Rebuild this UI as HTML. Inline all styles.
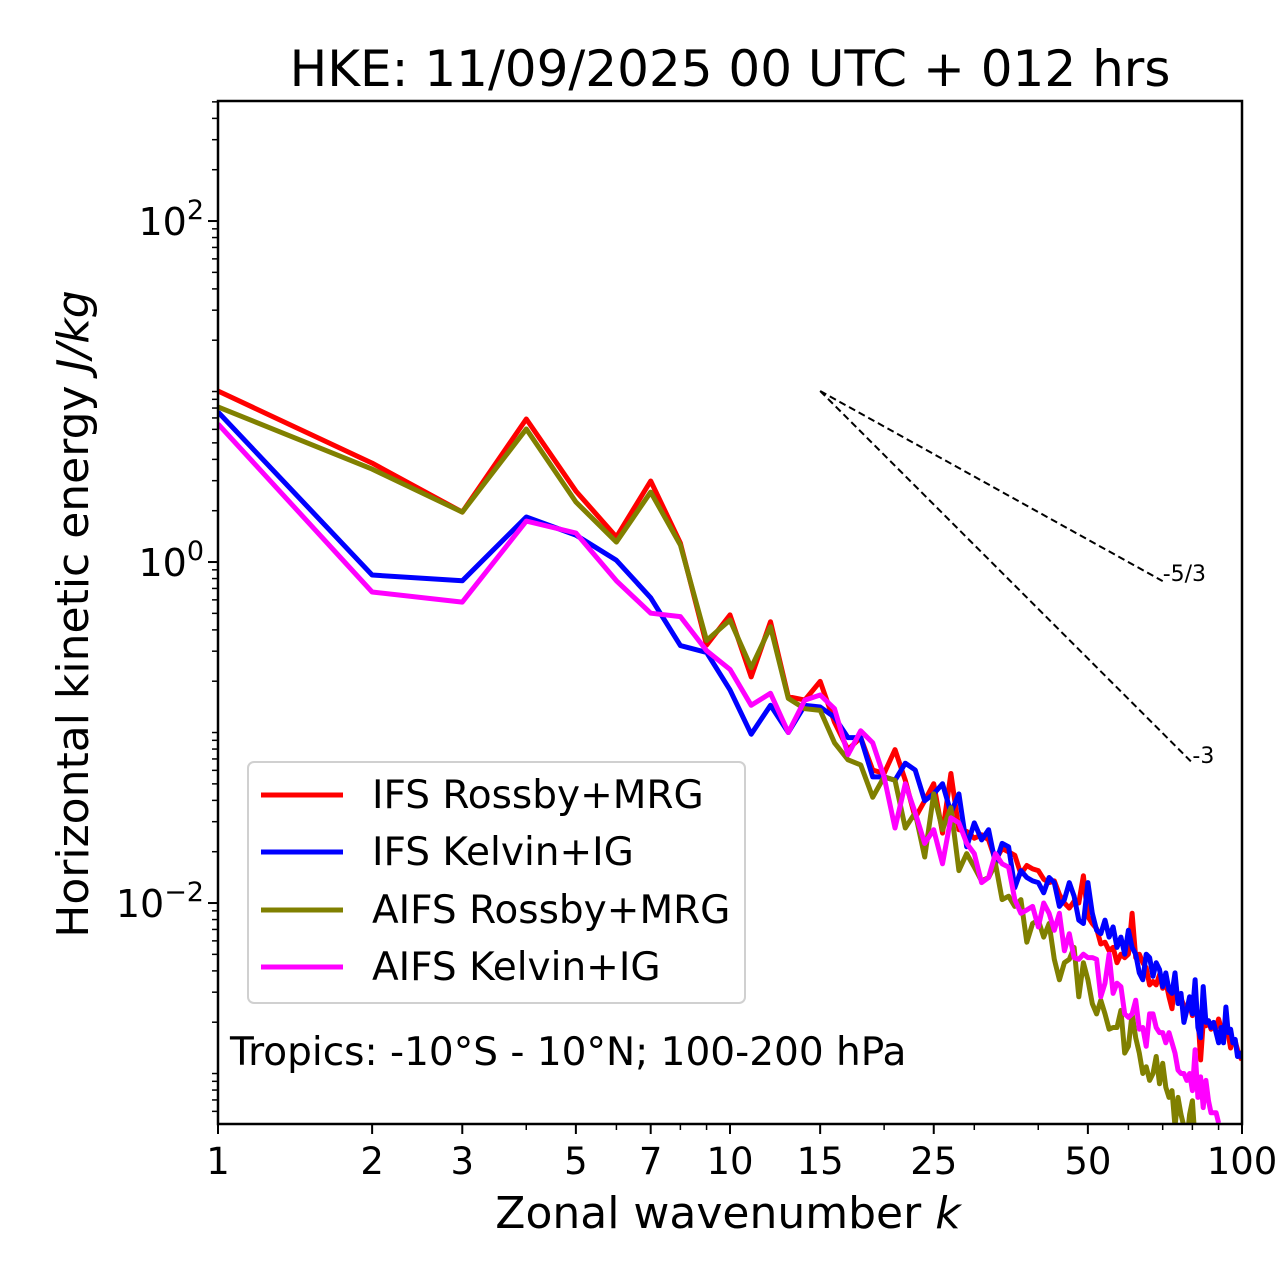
<!DOCTYPE html>
<html><head><meta charset="utf-8"><style>
body{margin:0;background:#fff}
svg{display:block;font-family:"DejaVu Sans","Liberation Sans",sans-serif}
</style></head><body>
<svg id="chart" width="1280" height="1288" viewBox="0 0 1280 1288">
<rect width="1280" height="1288" fill="#fff"/>
<text x="730" y="86" font-size="50" text-anchor="middle">HKE: 11/09/2025 00 UTC + 012 hrs</text>
<g id="grid"></g>
<g id="series" clip-path="url(#clip)"></g>
<defs><clipPath id="clip"><rect x="218" y="101" width="1024" height="1023"/></clipPath></defs>
<rect x="218" y="101" width="1024" height="1023" fill="none" stroke="#000" stroke-width="2.5"/>
<text x="728" y="1228" font-size="44" text-anchor="middle">Zonal wavenumber <tspan font-style="italic">k</tspan></text>
<text transform="translate(88,614) rotate(-90)" font-size="44" text-anchor="middle">Horizontal kinetic energy <tspan font-style="italic">J/kg</tspan></text>
<g>
<rect x="248" y="762" width="497" height="241" rx="6" fill="#fff" fill-opacity="0.85" stroke="#d0d0d0" stroke-width="2"/>
<line x1="261" y1="795" x2="343" y2="795" stroke="#ff0000" stroke-width="5"/>
<text x="372" y="808" font-size="39">IFS Rossby+MRG</text>
<line x1="261" y1="852" x2="343" y2="852" stroke="#0000ff" stroke-width="5"/>
<text x="372" y="865" font-size="39">IFS Kelvin+IG</text>
<line x1="261" y1="910" x2="343" y2="910" stroke="#808000" stroke-width="5"/>
<text x="372" y="923" font-size="39">AIFS Rossby+MRG</text>
<line x1="261" y1="967" x2="343" y2="967" stroke="#ff00ff" stroke-width="5"/>
<text x="372" y="980" font-size="39">AIFS Kelvin+IG</text>
</g>
<text x="230" y="1065" font-size="39">Tropics: -10°S - 10°N; 100-200 hPa</text>
<g id="refs"></g>
</svg>
<script>
// log10 of energy per wavenumber k=1..N
const ifsRossby=[1.003,0.58,0.293,0.839,0.416,0.147,0.475,0.111,-0.487,-0.31,-0.674,-0.35,-0.79,-0.81,-0.70,-0.94,-1.10,-1.03,-1.22,-1.24,-1.10,-1.28,-1.50,-1.40,-1.30,-1.59,-1.24,-1.57,-1.58,-1.62,-1.60,-1.63,-1.75,-1.68,-1.70,-1.72,-1.83,-1.78,-1.80,-1.81,-1.86,-1.88,-1.87,-1.95,-2.00,-2.03,-1.99,-2.00,-1.84,-2.08,-2.12,-2.15,-2.24,-2.23,-2.28,-2.26,-2.35,-2.30,-2.32,-2.30,-2.06,-2.32,-2.30,-2.35,-2.38,-2.48,-2.46,-2.48,-2.42,-2.50,-2.46,-2.55,-2.62,-2.45,-2.57,-2.56,-2.60,-2.62,-2.60,-2.66,-2.60,-2.65,-2.92,-2.70,-2.72,-2.69,-2.74,-2.72,-2.73,-2.68,-2.73,-2.74,-2.72,-2.77,-2.85,-2.80,-2.81,-2.86,-2.90,-2.92];
const ifsKelvin=[0.88,-0.076,-0.11,0.264,0.158,0.01,-0.21,-0.49,-0.53,-0.75,-1.01,-0.84,-1.0,-0.84,-0.85,-0.91,-1.03,-1.03,-1.26,-1.26,-1.28,-1.18,-1.22,-1.40,-1.36,-1.30,-1.47,-1.36,-1.67,-1.53,-1.63,-1.57,-1.77,-1.65,-1.67,-1.91,-1.81,-1.85,-1.87,-1.88,-1.94,-1.85,-1.88,-2.02,-1.98,-1.88,-1.96,-2.10,-2.12,-1.88,-2.06,-2.16,-2.18,-2.10,-2.20,-2.14,-2.26,-2.20,-2.30,-2.16,-2.26,-2.30,-2.41,-2.45,-2.30,-2.32,-2.43,-2.35,-2.39,-2.49,-2.41,-2.51,-2.53,-2.41,-2.59,-2.53,-2.70,-2.63,-2.55,-2.65,-2.45,-2.73,-2.79,-2.49,-2.70,-2.69,-2.73,-2.70,-2.76,-2.82,-2.73,-2.82,-2.61,-2.76,-2.74,-2.82,-2.80,-2.90,-2.88,-2.91];
const aifsRossby=[0.91,0.545,0.293,0.78,0.352,0.117,0.41,0.10,-0.46,-0.34,-0.62,-0.38,-0.80,-0.86,-0.87,-1.06,-1.16,-1.19,-1.38,-1.26,-1.28,-1.56,-1.47,-1.73,-1.36,-1.57,-1.44,-1.81,-1.71,-1.79,-1.87,-1.85,-1.77,-1.98,-1.96,-2.02,-1.98,-2.23,-2.12,-2.10,-2.20,-2.12,-2.33,-2.45,-2.35,-2.33,-2.26,-2.55,-2.35,-2.45,-2.59,-2.65,-2.57,-2.65,-2.74,-2.73,-2.73,-2.63,-2.88,-2.84,-2.65,-2.79,-2.88,-3.00,-2.96,-3.04,-3.00,-2.90,-3.06,-2.94,-3.08,-3.14,-3.10,-3.31,-3.14,-3.24,-3.31,-3.40,-3.24,-3.16,-3.40,-3.45,-3.42,-3.50];
const aifsKelvin=[0.81,-0.176,-0.235,0.24,0.17,-0.11,-0.30,-0.32,-0.52,-0.63,-0.84,-0.77,-1.00,-0.81,-0.78,-0.86,-1.13,-0.99,-1.06,-1.26,-1.56,-1.30,-1.47,-1.65,-1.57,-1.77,-1.50,-1.53,-1.65,-1.71,-1.88,-1.85,-1.71,-1.77,-1.79,-1.98,-2.06,-2.04,-2.02,-2.14,-2.00,-2.06,-2.16,-2.06,-2.28,-2.18,-2.32,-2.33,-2.30,-2.32,-2.32,-2.33,-2.55,-2.47,-2.30,-2.53,-2.47,-2.49,-2.65,-2.67,-2.65,-2.57,-2.74,-2.73,-2.84,-2.65,-2.65,-2.73,-2.76,-2.76,-2.82,-2.76,-2.82,-2.88,-2.98,-3.00,-3.00,-3.04,-3.00,-3.10,-2.86,-3.14,-3.02,-3.20,-3.04,-3.16,-3.23,-3.23,-3.23,-3.29];
const xTicks=[1,2,3,5,7,10,15,25,50,100];
const xMinor=[4,6,8,9,20,30,40,60,70,80,90];
const yMajorExp=[2,0,-2];
const refStart=[15,1.003];
const refSlopes=[-5/3,-3];
const refLabels=["-5/3","-3"];
const refEnds=[70,80];

const X0=218,X1=1242,Y0=1124,Y1=101,LMIN=-3.296,LMAX=2.704;
const sx=k=>X0+(X1-X0)*Math.log10(k)/2;
const sy=l=>Y0-(Y0-Y1)*(l-LMIN)/(LMAX-LMIN);
const NS="http://www.w3.org/2000/svg";
function mk(tag,attrs,parent){const e=document.createElementNS(NS,tag);for(const a in attrs)e.setAttribute(a,attrs[a]);parent.appendChild(e);return e;}
const g=document.getElementById('grid');
xTicks.forEach(k=>{
  const t=mk('line',{x1:sx(k),x2:sx(k),y1:Y0,y2:Y0+10,stroke:'#000','stroke-width':2},g);
  
  
  const tx=mk('text',{x:sx(k),y:Y0+50,'font-size':37,'text-anchor':'middle'},g);
  tx.textContent=k;
  
  
});
xMinor.forEach(k=>{
  const t=mk('line',{x1:sx(k),x2:sx(k),y1:Y0,y2:Y0+6,stroke:'#000','stroke-width':1.5},g);
  
  
});
for(let e=-4;e<=3;e++){for(let m=1;m<=9;m++){
  const l=e+Math.log10(m); if(l<LMIN||l>LMAX) continue;
  const major=(m===1&&yMajorExp.includes(e));
  const t=mk('line',{x1:X0,x2:X0-(major?10:6),y1:sy(l),y2:sy(l),stroke:'#000','stroke-width':major?2:1.5},g);
  
  
}}
yMajorExp.forEach(e=>{
  const tx=mk('text',{x:X0-14,y:sy(e)+14,'font-size':38,'text-anchor':'end'},g);
  tx.innerHTML='10<tspan dy="-16" font-size="27">'+(e<0?'\u2212'+(-e):e)+'</tspan>';
  
  
});
const sg=document.getElementById('series');
[[ifsRossby,'#ff0000','ifs-rossby-line'],[ifsKelvin,'#0000ff','ifs-kelvin-line'],[aifsRossby,'#808000','aifs-rossby-line'],[aifsKelvin,'#ff00ff','aifs-kelvin-line']].forEach(([d,c,n])=>{
  const pts=d.map((v,i)=>sx(i+1).toFixed(1)+','+sy(v).toFixed(1)).join(' ');
  const p=mk('polyline',{points:pts,fill:'none',stroke:c,'stroke-width':5,'stroke-linejoin':'round'},sg);
  
  
});
const rg=document.getElementById('refs');
refSlopes.forEach((s,i)=>{
  const k0=refStart[0],l0=refStart[1],k1=refEnds[i];
  const l1=l0+s*Math.log10(k1/k0);
  const ln=mk('line',{x1:sx(k0),y1:sy(l0),x2:sx(k1),y2:sy(l1),stroke:'#000','stroke-width':2,'stroke-dasharray':'7,4'},rg);
  
  
  const tx=mk('text',{x:sx(k1),y:sy(l1)-6,'font-size':22,'dominant-baseline':'middle'},rg);
  tx.textContent=refLabels[i];
  
  
});
</script>
</body></html>
